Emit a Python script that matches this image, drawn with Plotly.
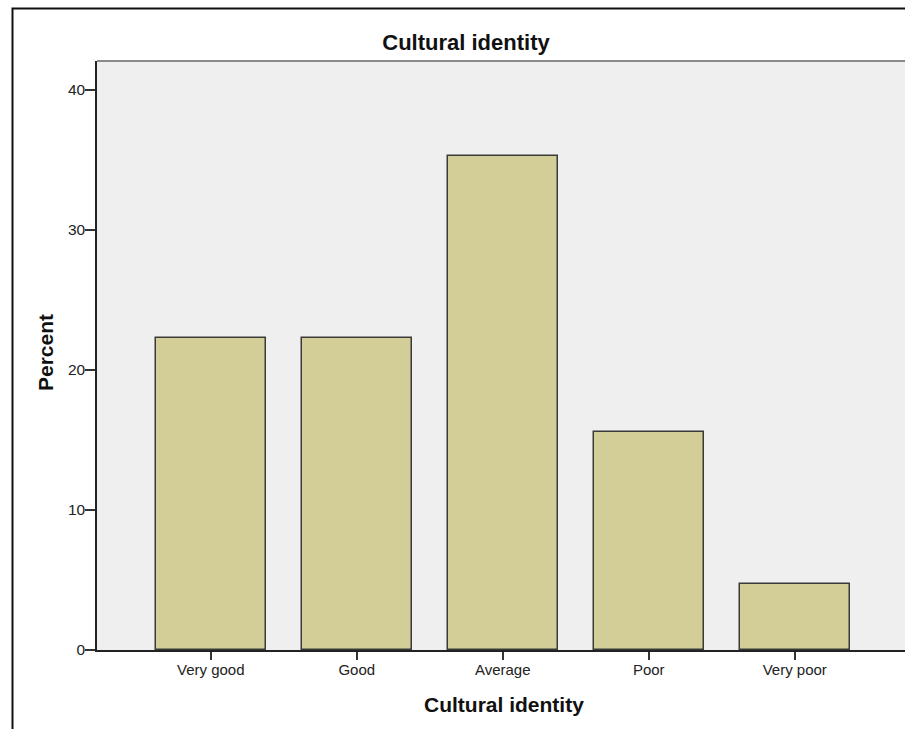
import plotly.graph_objects as go

# Frequency distribution of responses (percent)
categories = ["Very good", "Good", "Average", "Poor", "Very poor"]
percent = [22.3, 22.3, 35.3, 15.6, 4.7]
y_ticks = [0, 10, 20, 30, 40]

W, H = 905, 729
ML, MR, MT, MB = 97, 0, 61, 79
PW, PH = W - ML - MR, H - MT - MB


def px_x(px):
    return (px - ML) / PW


def px_y(py):
    return (H - MB - py) / PH


FONT = "Liberation Sans, Arial, sans-serif"

fig = go.Figure(
    go.Bar(
        x=categories,
        y=percent,
        width=0.753,
        marker=dict(color="#d3ce97", line=dict(color="#3a3a3a", width=1.5)),
        hoverinfo="x+y",
    )
)

fig.update_layout(
    width=W,
    height=H,
    margin=dict(l=ML, r=MR, t=MT, b=MB, pad=0),
    paper_bgcolor="white",
    plot_bgcolor="#efefef",
    showlegend=False,
    font=dict(family=FONT, color="#222222"),
    bargap=0,
    xaxis=dict(
        type="category",
        range=[-0.779, 4.755],
        showgrid=False,
        zeroline=False,
        showline=True,
        linecolor="#222222",
        linewidth=1.5,
        ticks="outside",
        ticklen=8,
        tickwidth=1.5,
        tickcolor="#333333",
        ticklabelstandoff=-3,
        tickfont=dict(size=15, family=FONT, color="#222222"),
        fixedrange=True,
    ),
    yaxis=dict(
        range=[0, 42.07],
        tickvals=y_ticks,
        showgrid=False,
        zeroline=False,
        showline=True,
        linecolor="#222222",
        linewidth=1.5,
        ticks="outside",
        ticklen=10,
        tickwidth=1.5,
        tickcolor="#333333",
        ticklabelstandoff=-3,
        tickfont=dict(size=15.5, family=FONT, color="#222222"),
        fixedrange=True,
    ),
    title=dict(
        text="<b>Cultural identity</b>",
        font=dict(size=22, family=FONT, color="#111111"),
        xref="paper",
        x=px_x(466),
        xanchor="center",
        yref="container",
        y=1 - 42 / H,
        yanchor="middle",
    ),
    annotations=[
        dict(
            text="<b>Cultural identity</b>",
            xref="paper",
            yref="paper",
            x=px_x(504),
            y=px_y(704),
            xanchor="center",
            yanchor="middle",
            showarrow=False,
            font=dict(size=21, family=FONT, color="#111111"),
        ),
        dict(
            text="<b>Percent</b>",
            xref="paper",
            yref="paper",
            x=px_x(45),
            y=px_y(353),
            xanchor="center",
            yanchor="middle",
            textangle=-90,
            showarrow=False,
            font=dict(size=21, family=FONT, color="#111111"),
        ),
    ],
    shapes=[
        # outer chart frame (left and top edges)
        dict(
            type="path",
            xref="paper",
            yref="paper",
            path=f"M {px_x(12.5)},{px_y(740)} L {px_x(12.5)},{px_y(8.5)} L {px_x(920)},{px_y(8.5)}",
            line=dict(color="#111111", width=2),
            layer="above",
        ),
        # top edge of the plotting area
        dict(
            type="line",
            xref="paper",
            yref="paper",
            x0=0,
            x1=1.05,
            y0=1,
            y1=1,
            line=dict(color="#8a8a8a", width=2),
            layer="above",
        ),
    ],
)

fig.write_html("out.html")
